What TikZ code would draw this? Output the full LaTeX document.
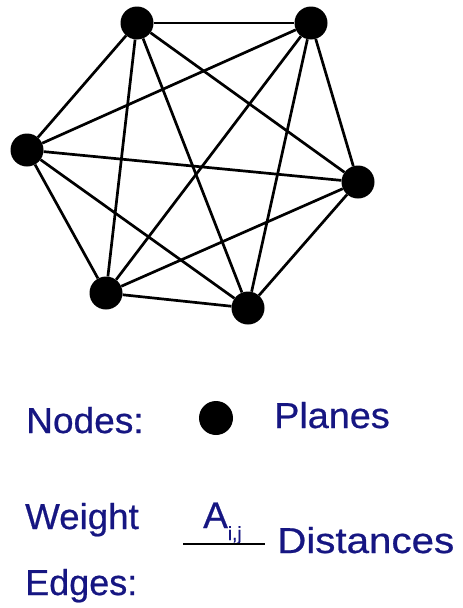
\documentclass[tikz,border=0pt]{standalone}
\usepackage{fontspec}
\setmainfont{Liberation Sans}
\newfontfamily\lblfont[FakeBold=0.6]{Liberation Sans}
\definecolor{navy}{RGB}{22,22,130}
\begin{document}
\begin{tikzpicture}[x=1pt,y=-1pt,
  vert/.style={circle,fill=black,inner sep=0pt,minimum size=33pt},
  edge/.style={line width=2.7pt},
  lbl/.style={anchor=base west,inner sep=0pt,text=navy,font=\lblfont\fontsize{36}{40}\selectfont}]
\useasboundingbox (0,0) rectangle (463,608);
\node[vert] (a) at (137,23) {};
\node[vert] (b) at (311,23) {};
\node[vert] (c) at (27,150) {};
\node[vert] (d) at (358,182) {};
\node[vert] (e) at (106,293) {};
\node[vert] (f) at (248,308) {};
\foreach \u/\v in {a/b,a/c,a/d,a/e,a/f,b/c,b/d,b/e,b/f,c/d,c/e,c/f,d/e,d/f,e/f}
  \draw[edge] (\u) -- (\v);
\node[lbl] (nodes) at (26,433) {\scalebox{1.03}[1]{Nodes:}};
\node[vert,minimum size=34pt] (dot) at (216,418) {};
\node[lbl] (planes) at (274,428) {\scalebox{1.05}[1]{Planes}};
\node[lbl] (weight) at (25,529) {\scalebox{1.02}[1]{Weight}};
\node[lbl] (edges) at (25,595) {Edges:};
\node[lbl,font=\lblfont\fontsize{37}{40}\selectfont] (aij) at (203,528) {A\raisebox{-12pt}{\fontsize{19}{20}\selectfont i,j}};
\coordinate (l1) at (183,544);
\coordinate (l2) at (265,544);
\draw[line width=2.4pt] (l1) -- (l2);
\node[lbl] (dist) at (277,553) {\scalebox{1.12}[1]{Distances}};
\end{tikzpicture}
\end{document}
